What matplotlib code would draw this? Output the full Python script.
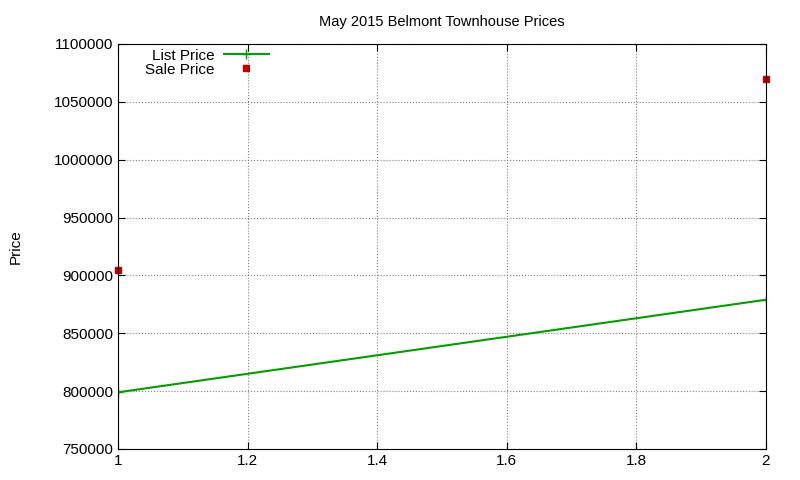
import matplotlib
matplotlib.use("Agg")
import matplotlib.pyplot as plt

list_x = [1, 2]
list_price = [799000, 879000]
sale_x = [1, 2]
sale_price = [905000, 1070000]
yticks = [750000, 800000, 850000, 900000, 950000, 1000000, 1050000, 1100000]
xticks = [1, 1.2, 1.4, 1.6, 1.8, 2]

plt.rcParams['font.family'] = ['Liberation Sans', 'DejaVu Sans']
fig = plt.figure(figsize=(8, 4.8), dpi=100)
ax = fig.add_axes([118/800, 1-449/480, (766-118)/800, (449-44)/480])
ax.plot(list_x, list_price, color='#00a000', marker='+', markersize=7, lw=1.5, label='List Price')
ax.plot(sale_x, sale_price, color='#c00000', marker='s', markersize=5, ls='none', label='Sale Price', clip_on=False)
ax.set_xlim(1, 2)
ax.set_ylim(750000, 1100000)
ax.set_xticks(xticks)
ax.set_xticklabels([f"{t:g}" for t in xticks])
ax.set_yticks(yticks)
ax.set_yticklabels([str(t) for t in yticks])
ax.tick_params(direction='in', top=True, right=True, labelsize=11, length=5)
ax.grid(True, color='#808080', ls=':', lw=0.8)
ax.set_ylabel('Price', fontsize=11, labelpad=22)
ax.set_title('May 2015 Belmont Townhouse Prices', fontsize=10.5, pad=13)
ax.legend(loc='upper left', bbox_to_anchor=(0.025, 1.015), frameon=False, markerfirst=False,
          fontsize=11, handlelength=3, borderpad=0.2, labelspacing=0.0, handletextpad=0.6)
fig.savefig('out.png', dpi=100)
